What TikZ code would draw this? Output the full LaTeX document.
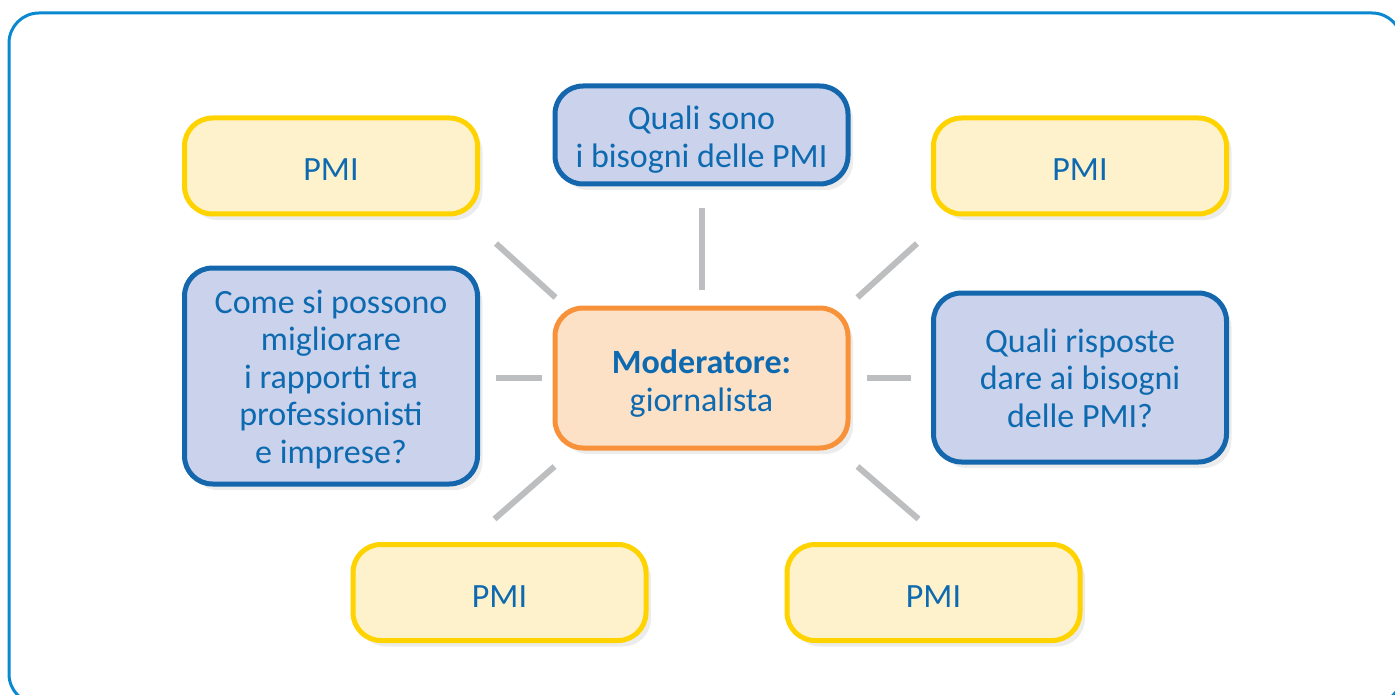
\documentclass[tikz,border=0pt]{standalone}
\usepackage{fontspec}
\setmainfont{Carlito}
\usetikzlibrary{shadows,calc}
\definecolor{frameblue}{HTML}{0A88D0}
\definecolor{txtblue}{HTML}{0E6AB0}
\definecolor{ylwline}{HTML}{FFD300}
\definecolor{ylwfill}{HTML}{FEF2CC}
\definecolor{bluline}{HTML}{1467AD}
\definecolor{blufill}{HTML}{CAD3EB}
\definecolor{orgline}{HTML}{F7923A}
\definecolor{orgfill}{HTML}{FDE1C7}
\definecolor{conn}{HTML}{BDBEC0}
\newcommand{\boxtxt}[2][6pt]{\raisebox{-#1}[\height][\depth]{\begin{tabular}{@{}c@{}}#2\end{tabular}}}
\tikzset{
  box/.style={rounded corners=28pt, line width=5pt, minimum width=293pt, inner sep=0pt,
    text=txtblue, font=\fontsize{34}{37.5}\selectfont,
    drop shadow={opacity=0.15, shadow xshift=5pt, shadow yshift=-6pt}},
  pmibox/.style={box, draw=ylwline, fill=ylwfill, minimum height=96pt},
  qbox/.style={box, draw=bluline, fill=blufill},
  modbox/.style={box, draw=orgline, fill=orgfill, minimum height=140pt},
  connector/.style={draw=conn, line width=6pt}
}
\begin{document}
\begin{tikzpicture}[x=1pt,y=-1pt]
\useasboundingbox (0,0) rectangle (1395,695);
\begin{scope}
\clip (0,0) rectangle (1395,695);
\draw[frameblue, line width=3pt, rounded corners=30pt] (9,13) rectangle (1402,704);
\end{scope}
\node[modbox] (c) at (701.5,378) {\boxtxt[7pt]{\textbf{Moderatore:}\\giornalista}};
\node[pmibox] (tl) at (331,166) {\boxtxt[7pt]{PMI}};
\node[pmibox] (tr) at (1080,166) {\boxtxt[7pt]{PMI}};
\node[pmibox] (bl) at (499.5,592.5) {\boxtxt[7pt]{PMI}};
\node[pmibox] (br) at (933.5,592.5) {\boxtxt[7pt]{PMI}};
\node[qbox, minimum height=98pt] (t) at (701.5,135) {\boxtxt[6pt]{Quali sono\\i bisogni delle PMI}};
\node[qbox, minimum height=216pt] (l) at (331,376) {\boxtxt[4.5pt]{Come si possono\\migliorare\\i rapporti tra\\professionisti\\e imprese?}};
\node[qbox, minimum height=169pt] (r) at (1080,377.5) {\boxtxt[4.5pt]{Quali risposte\\dare ai bisogni\\delle PMI?}};
% connectors
\coordinate (ctl) at ($(c.north west)+(3,-8)$);
\coordinate (etl) at ($(tl.south east)+(16,27)$);
\coordinate (ct) at ($(c.north)+(0,-16)$);
\coordinate (et) at ($(t.south)+(0,22)$);
\coordinate (ctr) at ($(c.north east)+(7,-8)$);
\coordinate (etr) at ($(tr.south west)+(-14,27)$);
\coordinate (cl) at ($(c.west)+(-11,0)$);
\coordinate (el) at ($(l.east |- c.west)+(16,0)$);
\coordinate (cr) at ($(c.east)+(16,0)$);
\coordinate (er) at ($(r.west |- c.east)+(-20,0)$);
\coordinate (cbl) at ($(c.south west)+(2,16)$);
\coordinate (ebl) at ($(bl.north west)+(144,-23)$);
\coordinate (cbr) at ($(c.south east)+(7,16)$);
\coordinate (ebr) at ($(br.north east)+(-164,-23)$);
\draw[connector] (ctl) -- (etl);
\draw[connector] (ct) -- (et);
\draw[connector] (ctr) -- (etr);
\draw[connector] (cl) -- (el);
\draw[connector] (cr) -- (er);
\draw[connector] (cbl) -- (ebl);
\draw[connector] (cbr) -- (ebr);
\end{tikzpicture}
\end{document}
